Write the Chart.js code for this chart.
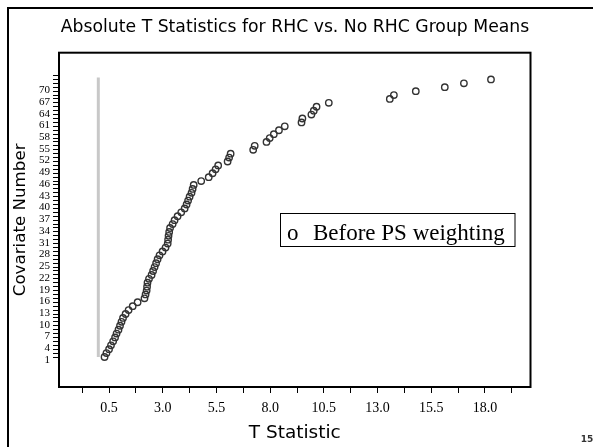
<!DOCTYPE html>
<html>
<head>
<meta charset="utf-8">
<script src="https://cdn.jsdelivr.net/npm/chart.js@4.4.1/dist/chart.umd.min.js"></script>
<style>
  html, body { margin: 0; padding: 0; background: #fff; }
  #wrap { position: relative; width: 593px; height: 447px; }
</style>
</head>
<body>
<div id="wrap"><canvas id="tChart" width="593" height="447"></canvas></div>
<script>
// Absolute t statistics, sorted, one per covariate (before PS weighting)
const tStats = [
    0.29, 0.38, 0.50, 0.59, 0.69, 0.78, 0.85, 0.94, 1.01, 1.08,
    1.15, 1.27, 1.41, 1.60, 1.83, 2.15, 2.20, 2.25, 2.27, 2.29,
    2.36, 2.48, 2.55, 2.62, 2.69, 2.76, 2.85, 2.99, 3.13, 3.23,
    3.25, 3.27, 3.30, 3.34, 3.46, 3.55, 3.69, 3.86, 4.02, 4.11,
    4.18, 4.25, 4.34, 4.39, 4.44, 4.79, 5.14, 5.32, 5.46, 5.58,
    6.02, 6.09, 6.16, 7.21, 7.28, 7.83, 7.98, 8.17, 8.41, 8.68,
    9.46, 9.50, 9.92, 10.03, 10.16, 10.73, 13.57, 13.76, 14.78, 16.13,
    17.02, 18.28
];
const covariateNumbers = [
    1, 2, 3, 4, 5, 6, 7, 8, 9, 10,
    11, 12, 13, 14, 15, 16, 17, 18, 19, 20,
    21, 22, 23, 24, 25, 26, 27, 28, 29, 30,
    31, 32, 33, 34, 35, 36, 37, 38, 39, 40,
    41, 42, 43, 44, 45, 46, 47, 48, 49, 50,
    51, 52, 53, 54, 55, 56, 57, 58, 59, 60,
    61, 62, 63, 64, 65, 66, 67, 68, 69, 70,
    71, 72
];
// gray reference line at t = 0
const refLineX = [0, 0];
const refLineY = [1, 72.5];

// axis ticks
const xMajorTicks = [0.5, 3.0, 5.5, 8.0, 10.5, 13.0, 15.5, 18.0];
const xTickLabels = ["0.5", "3.0", "5.5", "8.0", "10.5", "13.0", "15.5", "18.0"];
const yTickLabels = [1, 4, 7, 10, 13, 16, 19, 22, 25, 28, 31, 34, 37, 40, 43, 46, 49, 52, 55, 58, 61, 64, 67, 70];

const titleText = "Absolute T Statistics for RHC vs. No RHC Group Means";
const comicFamily = "'DejaVu Sans'";
const serifFamily = "'Liberation Serif'";

// font size that makes text a given width
function fitSize(text, family, width) {
    const c = document.createElement("canvas").getContext("2d");
    c.font = "100px " + family;
    return 100 * width / c.measureText(text).width;
}

const yTitleSize = fitSize("Covariate Number", comicFamily, 153);
const xTitleSize = fitSize("T Statistic", comicFamily, 92);

// minor ticks halfway between the majors
const xTicks = [];
xMajorTicks.forEach((v) => { xTicks.push(v - 1.25, v); });
xTicks.push(xMajorTicks[xMajorTicks.length - 1] + 1.25);
const yTicks = [];
for (let v = 1; v <= 73; v++) yTicks.push(v);

const decorations = {
    id: "decorations",
    afterDraw(chart) {
        const ctx = chart.ctx;
        const a = chart.chartArea;
        ctx.save();
        // slide frame
        ctx.fillStyle = "#000";
        ctx.fillRect(7, 7, 593, 2);
        ctx.fillRect(7, 7, 2, 447);
        // plot frame
        ctx.strokeStyle = "#000";
        ctx.lineWidth = 2;
        ctx.strokeRect(a.left, a.top, a.right - a.left, a.bottom - a.top);
        // title
        const ts = fitSize(titleText, comicFamily, 469);
        ctx.font = ts + "px " + comicFamily;
        ctx.textAlign = "center";
        ctx.textBaseline = "middle";
        ctx.fillText(titleText, 295, 28);
        // legend box
        ctx.fillStyle = "#fff";
        ctx.fillRect(280.5, 213.5, 234.5, 33);
        ctx.lineWidth = 1;
        ctx.strokeRect(280.5, 213.5, 234.5, 33);
        ctx.fillStyle = "#000";
        ctx.font = "23px " + serifFamily;
        ctx.textAlign = "left";
        ctx.textBaseline = "alphabetic";
        ctx.fillText("o", 287, 239.5);
        ctx.fillText("Before PS weighting", 313, 239.5);
        // page number
        ctx.fillStyle = "#333";
        ctx.font = "bold 9px 'DejaVu Sans'";
        ctx.textAlign = "center";
        ctx.textBaseline = "middle";
        ctx.fillText("15", 587, 440);
        ctx.restore();
    },
};

const ctx = document.getElementById("tChart").getContext("2d");
new Chart(ctx, {
    type: "scatter",
    data: {
        datasets: [
            {
                data: tStats.map((t, i) => ({ x: t, y: covariateNumbers[i] })),
                pointStyle: "circle",
                pointRadius: 3.2,
                pointBorderWidth: 1.4,
                pointBorderColor: "#333",
                pointBackgroundColor: "rgba(0,0,0,0)",
            },
            {
                data: refLineX.map((x, i) => ({ x: x, y: refLineY[i] })),
                showLine: true,
                borderColor: "#c8c8c8",
                borderWidth: 3,
                pointRadius: 0,
            },
        ],
    },
    options: {
        responsive: false,
        animation: false,
        layout: { padding: { top: 52.7, right: 62.5, bottom: 0, left: 0 } },
        plugins: {
            legend: { display: false },
            tooltip: { enabled: false },
        },
        scales: {
            x: {
                type: "linear",
                min: -1.83,
                max: 20.12,
                afterBuildTicks: (s) => { s.ticks = xTicks.map((v) => ({ value: v })); },
                afterFit: (s) => { s.height = 60; },
                border: { display: false },
                grid: { drawOnChartArea: false, drawTicks: true, tickLength: 6, tickColor: "#000" },
                ticks: {
                    autoSkip: false,
                    maxRotation: 0,
                    padding: 7,
                    color: "#000",
                    font: { family: serifFamily, size: 14 },
                    callback: (v) => {
                        const i = xMajorTicks.indexOf(v);
                        return i >= 0 ? xTickLabels[i] : "";
                    },
                },
                title: {
                    display: true,
                    text: "T Statistic",
                    color: "#000",
                    font: { family: comicFamily, size: xTitleSize },
                    padding: { top: 0, bottom: 13.5 - xTitleSize * 0.6 },
                },
            },
            y: {
                type: "linear",
                min: -6.67,
                max: 78.83,
                afterBuildTicks: (s) => { s.ticks = yTicks.map((v) => ({ value: v })); },
                afterFit: (s) => { s.width = 59; },
                border: { display: false },
                grid: { drawOnChartArea: false, drawTicks: true, tickLength: 6, tickColor: "#000" },
                ticks: {
                    autoSkip: false,
                    padding: 3,
                    labelOffset: 3,
                    color: "#000",
                    font: { family: serifFamily, size: 11 },
                    callback: (v) => (yTickLabels.includes(v) ? String(v) : ""),
                },
                title: {
                    display: true,
                    text: "Covariate Number",
                    color: "#000",
                    font: { family: comicFamily, size: yTitleSize },
                    padding: { top: 21 - yTitleSize * 0.6, bottom: 0 },
                },
            },
        },
    },
    plugins: [decorations],
});
</script>
</body>
</html>
